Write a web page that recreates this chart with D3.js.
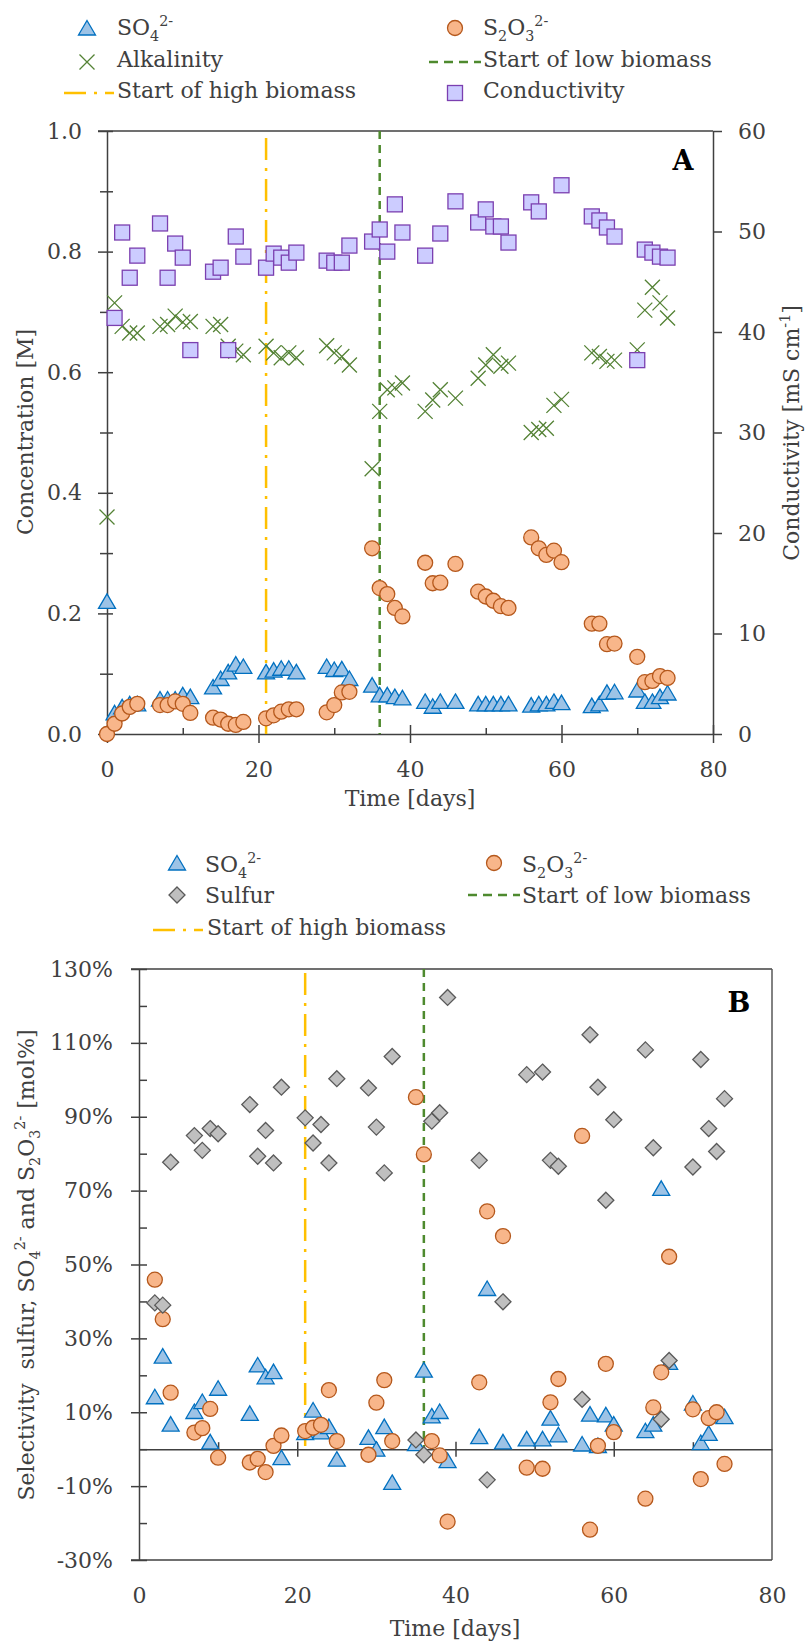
<!DOCTYPE html>
<html>
<head>
<meta charset="utf-8">
<script src="https://cdn.jsdelivr.net/npm/d3@7"></script>
<style>
  body { margin: 0; background: #fff; }
  text { font-family: "DejaVu Serif", serif; fill: #404040; white-space: pre; }
</style>
</head>
<body>
<div id="wrapper"></div>
<script>
// ---- data (day, value) ----
const sulfateA = [[0,.22],[1,.035],[2,.045],[3,.05],[4,.05],[7,.058],[8,.058],[9,.058],[10,.065],[11,.062],
  [14,.078],[15,.092],[16,.103],[17,.116],[18,.112],[21,.103],[22,.106],[23,.109],[24,.109],[25,.103],
  [29,.112],[30,.107],[31,.108],[32,.092],[35,.081],[36,.065],[37,.065],[38,.062],[39,.06],
  [42,.054],[43,.046],[44,.054],[46,.054],[49,.05],[50,.05],[51,.05],[52,.05],[53,.05],
  [56,.048],[57,.05],[58,.05],[59,.054],[60,.052],[64,.047],[65,.05],[66,.069],[67,.07],
  [70,.073],[71,.054],[72,.054],[73,.062],[74,.068]]
const thiosulfateA = [[0,0],[1,.017],[2,.034],[3,.045],[4,.05],[7,.048],[8,.048],[9,.054],[10,.05],[11,.035],
  [14,.027],[15,.024],[16,.017],[17,.015],[18,.02],[21,.026],[22,.031],[23,.037],[24,.041],[25,.041],
  [29,.036],[30,.048],[31,.069],[32,.07],[35,.308],[36,.242],[37,.232],[38,.209],[39,.195],
  [42,.284],[43,.25],[44,.251],[46,.282],[49,.236],[50,.228],[51,.221],[52,.212],[53,.209],
  [56,.326],[57,.308],[58,.297],[59,.304],[60,.285],[64,.183],[65,.183],[66,.149],[67,.15],
  [70,.128],[71,.086],[72,.088],[73,.096],[74,.093]]
const alkalinity = [[0,.36],[1,.715],[2,.676],[3,.665],[4,.665],[7,.676],[8,.679],[9,.693],[10,.683],[11,.684],
  [14,.676],[15,.679],[16,.643],[17,.635],[18,.629],[21,.643],[22,.632],[23,.624],[24,.632],[25,.624],
  [29,.644],[30,.632],[31,.626],[32,.612],[35,.44],[36,.535],[37,.571],[38,.574],[39,.582],
  [42,.535],[43,.554],[44,.571],[46,.557],[49,.59],[50,.612],[51,.629],[52,.61],[53,.615],
  [56,.5],[57,.505],[58,.507],[59,.545],[60,.555],[64,.632],[65,.626],[66,.618],[67,.62],
  [70,.637],[71,.703],[72,.741],[73,.715],[74,.69]]
const conductivity = [[1,41.4],[2,49.9],[3,45.4],[4,47.6],[7,50.8],[8,45.4],[9,48.8],[10,47.4],[11,38.2],
  [14,46.0],[15,46.4],[16,38.2],[17,49.5],[18,47.5],[21,46.4],[22,47.8],[23,47.4],[24,46.9],[25,47.9],
  [29,47.1],[30,46.9],[31,46.9],[32,48.6],[35,49.0],[36,50.2],[37,48.0],[38,52.7],[39,49.9],
  [42,47.6],[44,49.8],[46,53.0],[49,50.9],[50,52.2],[51,50.5],[52,50.5],[53,48.9],
  [56,52.9],[57,52.0],[60,54.6],[64,51.5],[65,51.1],[66,50.4],[67,49.5],
  [70,37.2],[71,48.2],[72,47.9],[73,47.5],[74,47.4]]

const sulfateB = [[2,14.2],[3,25.2],[4,6.8],[7,10.2],[8,12.9],[9,2],[10,16.5],[14,9.7],[15,22.8],[16,19.6],
  [17,21],[18,-2.3],[21,4.5],[22,10.6],[23,4.7],[24,6.1],[25,-2.7],[29,3.2],[30,0],[31,6.1],[32,-9],
  [35,1.5],[36,21.4],[37,9],[38,10.2],[39,-3.1],[43,3.4],[44,43.5],[46,2],[49,2.8],[51,2.8],[52,8.4],
  [53,3.9],[56,1.4],[57,9.5],[58,1],[59,9.3],[60,6.8],[64,5],[65,6.8],[66,70.6],[67,23.5],
  [70,12.5],[71,1.8],[72,4.3],[73,9],[74,8.8]]
const thiosulfateB = [[2,45.9],[3,35.2],[4,15.3],[7,4.5],[8,5.7],[9,10.9],[10,-2.3],[14,-3.6],[15,-2.6],
  [16,-6.2],[17,0.9],[18,3.7],[21,4.9],[22,5.8],[23,6.6],[24,16],[25,2.2],[29,-1.5],[30,12.6],[31,18.7],
  [32,2.2],[35,95.3],[36,79.8],[37,2.2],[38,-1.7],[39,-19.6],[43,18.1],[44,64.4],[46,57.7],[49,-5],
  [51,-5.3],[52,12.7],[53,19],[56,84.8],[57,-21.8],[58,0.9],[59,23.1],[60,4.6],[64,-13.4],[65,11.3],
  [66,20.8],[67,52.1],[70,10.8],[71,-8.1],[72,8.4],[73,10],[74,-4]]
const sulfurB = [[2,39.6],[3,39],[4,77.7],[7,84.9],[8,80.9],[9,86.8],[10,85.4],[14,93.3],[15,79.3],[16,86.3],
  [17,77.5],[18,98],[21,89.7],[22,82.9],[23,87.9],[24,77.5],[25,100.3],[29,97.8],[30,87.2],[31,74.8],
  [32,106.3],[35,2.5],[36,-1.5],[37,88.8],[38,91.1],[39,122.3],[43,78.2],[44,-8.3],[46,39.9],[49,101.4],
  [51,102.1],[52,78.2],[53,76.6],[56,13.5],[57,112.2],[58,98],[59,67.4],[60,89.2],[64,108.1],[65,81.6],
  [66,8.1],[67,24],[70,76.4],[71,105.5],[72,86.8],[73,80.6],[74,94.9]]

const highBiomassDay = 21
const lowBiomassDay = 36

const dayTicks = [0, 20, 40, 60, 80]
const dayMinorTicks = [10, 30, 50, 70]
const concTicks = [0, 0.2, 0.4, 0.6, 0.8, 1.0]
const concMinorTicks = [0.1, 0.3, 0.5, 0.7, 0.9]
const condTicks = [0, 10, 20, 30, 40, 50, 60]
const selTicks = [-30, -10, 10, 30, 50, 70, 90, 110, 130]
const selMinorTicks = [-20, 0, 20, 40, 60, 80, 100, 120]

// ---- styles ----
const col = {
  text: "#404040",
  axis: "#404040",
  triFill: "#9DC3E6", triStroke: "#0070C0",
  cirFill: "#F8B68A", cirStroke: "#B5581C",
  sqFill: "#CCCCFF", sqStroke: "#7B3FB0",
  alk: "#548235",
  diaFill: "#BFBFBF", diaStroke: "#595959",
  high: "#FFC000", low: "#4E8A2E",
}
const fs = 22

const svg = d3.select("#wrapper").append("svg")
  .attr("width", 806)
  .attr("height", 1645)

// symbols
const triPath = "M0,-7.5L8.5,7L-8.5,7Z"
const diaPath = "M0,-8L8,0L0,8L-8,0Z"
const xPath = "M-7.5,-7.5L7.5,7.5M7.5,-7.5L-7.5,7.5"

function drawMarker(g, type) {
  if (type === "tri") g.append("path").attr("d", triPath).attr("fill", col.triFill).attr("stroke", col.triStroke).attr("stroke-width", 1.3)
  if (type === "cir") g.append("circle").attr("r", 7.5).attr("fill", col.cirFill).attr("stroke", col.cirStroke).attr("stroke-width", 1.3)
  if (type === "sq") g.append("rect").attr("x", -7.5).attr("y", -7.5).attr("width", 15).attr("height", 15).attr("fill", col.sqFill).attr("stroke", col.sqStroke).attr("stroke-width", 1.3)
  if (type === "x") g.append("path").attr("d", xPath).attr("fill", "none").attr("stroke", col.alk).attr("stroke-width", 1.3)
  if (type === "dia") g.append("path").attr("d", diaPath).attr("fill", col.diaFill).attr("stroke", col.diaStroke).attr("stroke-width", 1.3)
  if (type === "high") g.append("line").attr("x1", -25).attr("x2", 25).attr("stroke", col.high).attr("stroke-width", 2.5).attr("stroke-dasharray", "22,8,3,8")
  if (type === "low") g.append("line").attr("x1", -26).attr("x2", 26).attr("stroke", col.low).attr("stroke-width", 2.5).attr("stroke-dasharray", "9,6")
}

function drawSeries(g, data, x, y, type) {
  g.append("g").selectAll("g")
    .data(data)
    .join("g")
      .attr("transform", d => `translate(${x(d[0])},${y(d[1])})`)
      .each(function() { drawMarker(d3.select(this), type) })
}

// text with sub/superscripts: parts = [[text, "n"|"sub"|"sup"], ...]
function richText(sel, parts, size) {
  let shift = 0
  parts.forEach(([t, k]) => {
    const target = k === "sub" ? size * 0.25 : k === "sup" ? -size * 0.42 : 0
    sel.append("tspan")
      .attr("dy", target - shift)
      .attr("font-size", k === "n" ? size : size * 0.65)
      .text(t)
    shift = target
  })
  return sel
}

// rotated, centred title (measured so mixed-size tspans centre properly)
function verticalTitle(cx, cy, parts) {
  const t = svg.append("text")
    .attr("transform", `translate(${cx},${cy}) rotate(-90)`)
    .attr("font-size", fs)
  richText(t, parts, fs)
  const len = t.node().getComputedTextLength()
  t.attr("x", -len / 2)
}

const so4 = [["SO", "n"], ["4", "sub"], ["2-", "sup"]]
const s2o3 = [["S", "n"], ["2", "sub"], ["O", "n"], ["3", "sub"], ["2-", "sup"]]

function legendItem(type, mx, my, tx, ty, parts) {
  const g = svg.append("g").attr("transform", `translate(${mx},${my})`)
  drawMarker(g, type)
  const t = svg.append("text").attr("x", tx).attr("y", ty).attr("font-size", fs)
  richText(t, parts, fs)
}

function styleAxis(g) {
  g.selectAll("text").attr("font-family", "DejaVu Serif, serif").attr("font-size", fs).attr("fill", col.text)
  g.selectAll("line").attr("stroke", col.axis).attr("stroke-width", 1.5)
  g.selectAll(".domain").attr("stroke", col.axis).attr("stroke-width", 1.5)
}

// ======================= PANEL A =======================
const xA = d3.scaleLinear().domain([0, 80]).range([107, 713])
const yA = d3.scaleLinear().domain([0, 1]).range([734, 131])
const yR = d3.scaleLinear().domain([0, 60]).range([734, 131])

// legend A
legendItem("tri", 87, 28, 117, 35, so4)
legendItem("cir", 455, 28, 483, 35, s2o3)
legendItem("x", 87, 62, 117, 66.5, [["Alkalinity", "n"]])
legendItem("low", 455, 62, 483, 66.5, [["Start of low biomass", "n"]])
legendItem("high", 89, 93, 117, 98, [["Start of high biomass", "n"]])
legendItem("sq", 455, 93, 483, 98, [["Conductivity", "n"]])

// top border
svg.append("line").attr("x1", 98).attr("x2", 713).attr("y1", yA(1)).attr("y2", yA(1))
  .attr("stroke", col.axis).attr("stroke-width", 1.5)

const leftA = svg.append("g").attr("transform", `translate(${xA(0)},0)`)
  .call(d3.axisLeft(yA).tickValues(concTicks).tickFormat(d3.format(".1f")).tickSize(9).tickSizeOuter(0).tickPadding(16))
leftA.selectAll(".tick line").attr("x1", 6)
styleAxis(leftA)
const leftAMinor = svg.append("g").attr("transform", `translate(${xA(0)},0)`)
  .call(d3.axisLeft(yA).tickValues(concMinorTicks).tickFormat("").tickSize(7).tickSizeOuter(0))
leftAMinor.selectAll(".tick line").attr("x1", 6)
leftAMinor.select(".domain").remove()
styleAxis(leftAMinor)

const rightA = svg.append("g").attr("transform", `translate(${xA(80)},0)`)
  .call(d3.axisRight(yR).tickValues(condTicks).tickSize(9).tickSizeOuter(0).tickPadding(16))
styleAxis(rightA)

const bottomA = svg.append("g").attr("transform", `translate(0,${yA(0)})`)
  .call(d3.axisBottom(xA).tickValues(dayTicks).tickSize(9).tickSizeOuter(0).tickPadding(18.4))
bottomA.selectAll(".tick line").attr("y1", -9)
styleAxis(bottomA)
const bottomAMinor = svg.append("g").attr("transform", `translate(0,${yA(0)})`)
  .call(d3.axisBottom(xA).tickValues(dayMinorTicks).tickFormat("").tickSize(0).tickSizeOuter(0))
bottomAMinor.selectAll(".tick line").attr("y1", -6)
bottomAMinor.select(".domain").remove()
styleAxis(bottomAMinor)

// vertical event lines
svg.append("line").attr("x1", xA(highBiomassDay)).attr("x2", xA(highBiomassDay))
  .attr("y1", yA(1) + 7).attr("y2", yA(0))
  .attr("stroke", col.high).attr("stroke-width", 2.5).attr("stroke-dasharray", "22,8,3,8")
svg.append("line").attr("x1", xA(lowBiomassDay)).attr("x2", xA(lowBiomassDay))
  .attr("y1", yA(1)).attr("y2", yA(0))
  .attr("stroke", col.low).attr("stroke-width", 2.5).attr("stroke-dasharray", "8,6")

// data A
const marksA = svg.append("g")
drawSeries(marksA, sulfateA, xA, yA, "tri")
drawSeries(marksA, thiosulfateA, xA, yA, "cir")
drawSeries(marksA, alkalinity, xA, yA, "x")
drawSeries(marksA, conductivity, xA, yR, "sq")

svg.append("text").attr("x", 683).attr("y", 170).attr("text-anchor", "middle")
  .attr("font-size", 27).attr("font-weight", "bold").style("fill", "#000").text("A")

// axis titles A
svg.append("text").attr("x", 410).attr("y", 806).attr("text-anchor", "middle").attr("font-size", fs).text("Time [days]")
verticalTitle(33, 432, [["Concentration [M]", "n"]])
verticalTitle(799, 433, [["Conductivity [mS cm", "n"], ["-1", "sup"], ["]", "n"]])

// ======================= PANEL B =======================
const xB = d3.scaleLinear().domain([0, 80]).range([139, 772])
const yB = d3.scaleLinear().domain([-30, 130]).range([1560, 969])

legendItem("tri", 177, 863, 205, 872, so4)
legendItem("cir", 494, 863, 522, 872, s2o3)
legendItem("dia", 177, 895, 205, 903, [["Sulfur", "n"]])
legendItem("low", 494, 895, 522, 903, [["Start of low biomass", "n"]])
legendItem("high", 178, 930, 207, 935, [["Start of high biomass", "n"]])

// frame
svg.append("line").attr("x1", 131).attr("x2", xB(80)).attr("y1", yB(130)).attr("y2", yB(130))
  .attr("stroke", col.axis).attr("stroke-width", 1.5)
svg.append("line").attr("x1", xB(80)).attr("x2", xB(80)).attr("y1", yB(130)).attr("y2", yB(-30))
  .attr("stroke", "#595959").attr("stroke-width", 1.5)

const leftB = svg.append("g").attr("transform", `translate(${xB(0)},0)`)
  .call(d3.axisLeft(yB).tickValues(selTicks).tickFormat(d => d + "%").tickSize(8).tickSizeOuter(0).tickPadding(18))
leftB.selectAll(".tick line").attr("x1", 8)
styleAxis(leftB)
const leftBMinor = svg.append("g").attr("transform", `translate(${xB(0)},0)`)
  .call(d3.axisLeft(yB).tickValues(selMinorTicks).tickFormat("").tickSize(0).tickSizeOuter(0))
leftBMinor.selectAll(".tick line").attr("x1", 8)
leftBMinor.select(".domain").remove()
styleAxis(leftBMinor)

const bottomB = svg.append("g").attr("transform", `translate(0,${yB(-30)})`)
  .call(d3.axisBottom(xB).tickValues(dayTicks).tickSize(0).tickSizeOuter(0).tickPadding(27.4))
styleAxis(bottomB)
bottomB.select(".domain").attr("d", `M131,0H${xB(80)}`)

const zeroB = svg.append("g").attr("transform", `translate(0,${yB(0)})`)
  .call(d3.axisBottom(xB).tickValues([20, 40, 60]).tickFormat("").tickSize(7.5).tickSizeOuter(0))
zeroB.selectAll(".tick line").attr("y1", -7.5)
styleAxis(zeroB)
const zeroBMinor = svg.append("g").attr("transform", `translate(0,${yB(0)})`)
  .call(d3.axisBottom(xB).tickValues(dayMinorTicks).tickFormat("").tickSize(0).tickSizeOuter(0))
zeroBMinor.selectAll(".tick line").attr("y1", -7)
zeroBMinor.select(".domain").remove()
styleAxis(zeroBMinor)

svg.append("line").attr("x1", xB(highBiomassDay)).attr("x2", xB(highBiomassDay))
  .attr("y1", yB(130) + 4).attr("y2", yB(0))
  .attr("stroke", col.high).attr("stroke-width", 2.5).attr("stroke-dasharray", "22,8,3,8")
svg.append("line").attr("x1", xB(lowBiomassDay)).attr("x2", xB(lowBiomassDay))
  .attr("y1", yB(130)).attr("y2", yB(0))
  .attr("stroke", col.low).attr("stroke-width", 2.5).attr("stroke-dasharray", "8,6")

const marksB = svg.append("g")
drawSeries(marksB, sulfateB, xB, yB, "tri")
drawSeries(marksB, thiosulfateB, xB, yB, "cir")
drawSeries(marksB, sulfurB, xB, yB, "dia")

svg.append("text").attr("x", 739).attr("y", 1012).attr("text-anchor", "middle")
  .attr("font-size", 27).attr("font-weight", "bold").style("fill", "#000").text("B")

svg.append("text").attr("x", 455).attr("y", 1636).attr("text-anchor", "middle").attr("font-size", fs).text("Time [days]")
verticalTitle(34, 1265,
  [["Selectivity  sulfur, SO", "n"], ["4", "sub"], ["2-", "sup"], [" and S", "n"], ["2", "sub"],
   ["O", "n"], ["3", "sub"], ["2-", "sup"], [" [mol%]", "n"]])
</script>
</body>
</html>
